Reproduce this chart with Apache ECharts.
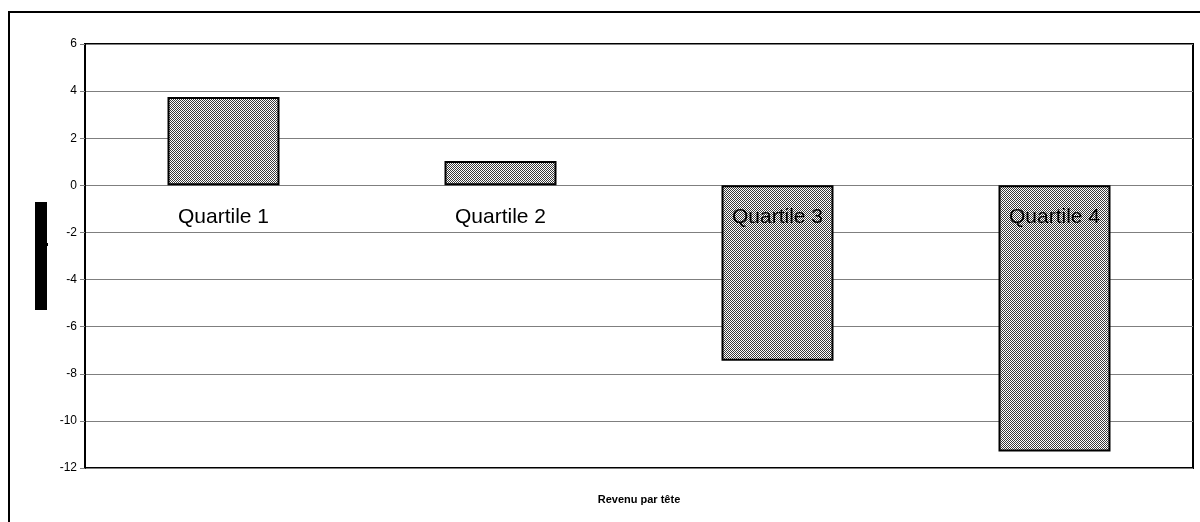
<!DOCTYPE html>
<html>
<head>
<meta charset="utf-8">
<script src="https://cdn.jsdelivr.net/npm/echarts@6/dist/echarts.min.js"></script>
<style>
  html, body { margin: 0; padding: 0; background: #fff; }
  #chart { width: 1200px; height: 522px; }
</style>
</head>
<body>
<div id="chart"></div>
<script>
const categories = ['Quartile 1', 'Quartile 2', 'Quartile 3', 'Quartile 4']
const values = [3.75, 1.03, -7.45, -11.3]
const yMin = -12
const yMax = 6
const yStep = 2
const xTitle = 'Revenu par tête'

// motif tramé des barres (damier pixel)
const makePattern = () => {
  const c = document.createElement('canvas')
  c.width = 2
  c.height = 2
  const ctx = c.getContext('2d')
  ctx.fillStyle = '#ffffff'
  ctx.fillRect(0, 0, 2, 2)
  ctx.fillStyle = '#3a3a3a'
  ctx.fillRect(0, 0, 1, 1)
  ctx.fillRect(1, 1, 1, 1)
  return c
}

const myEcharts = echarts.init(document.getElementById('chart'), null, { renderer: 'canvas' })
const font = 'Liberation Sans, Arial, sans-serif'

const gridTop = 44
const gridBottom = 54
const gridHeight = 522 - gridTop - gridBottom
// position de la ligne 0 par rapport au bas du graphe
const zeroOffset = -Math.round(gridHeight * (0 - yMin) / (yMax - yMin))

myEcharts.setOption({
  animation: false,
  backgroundColor: '#fff',
  title: {
    text: xTitle,
    left: 634,
    top: 489,
    textAlign: 'center',
    textStyle: {
      fontSize: 11,
      fontWeight: 'bold',
      color: '#000',
      fontFamily: font
    }
  },
  grid: {
    left: 85,
    right: 7,
    top: gridTop,
    bottom: gridBottom,
    show: true,
    borderColor: '#000',
    borderWidth: 2,
    containLabel: false,
    outerBoundsMode: 'none'
  },
  xAxis: {
    type: 'category',
    data: categories,
    z: 10,
    offset: zeroOffset,
    axisLine: { show: false, onZero: false },
    axisTick: { show: false },
    axisLabel: {
      margin: 22,
      fontSize: 21,
      color: '#000',
      fontFamily: font
    }
  },
  yAxis: {
    type: 'value',
    min: yMin,
    max: yMax,
    interval: yStep,
    axisLine: { show: true, lineStyle: { color: '#000', width: 2 } },
    axisTick: { show: true, length: 5, lineStyle: { color: '#7f7f7f' } },
    axisLabel: {
      fontSize: 12,
      color: '#000',
      margin: 8,
      fontFamily: font
    },
    splitLine: { show: true, lineStyle: { color: '#7f7f7f', width: 1 } }
  },
  series: [
    {
      type: 'bar',
      data: values,
      barWidth: 112,
      itemStyle: {
        color: { image: makePattern(), repeat: 'repeat' },
        borderColor: '#000',
        borderWidth: 2
      }
    }
  ],
  graphic: [
    {
      type: 'rect',
      shape: { x: 9, y: 12, width: 1300, height: 600 },
      style: { fill: 'none', stroke: '#000', lineWidth: 2 },
      silent: true
    },
    {
      type: 'rect',
      shape: { x: 35, y: 202, width: 12, height: 108 },
      style: { fill: '#000' },
      silent: true
    },
    {
      type: 'rect',
      shape: { x: 47, y: 243, width: 1, height: 3 },
      style: { fill: '#000' },
      silent: true
    }
  ]
})
</script>
</body>
</html>
